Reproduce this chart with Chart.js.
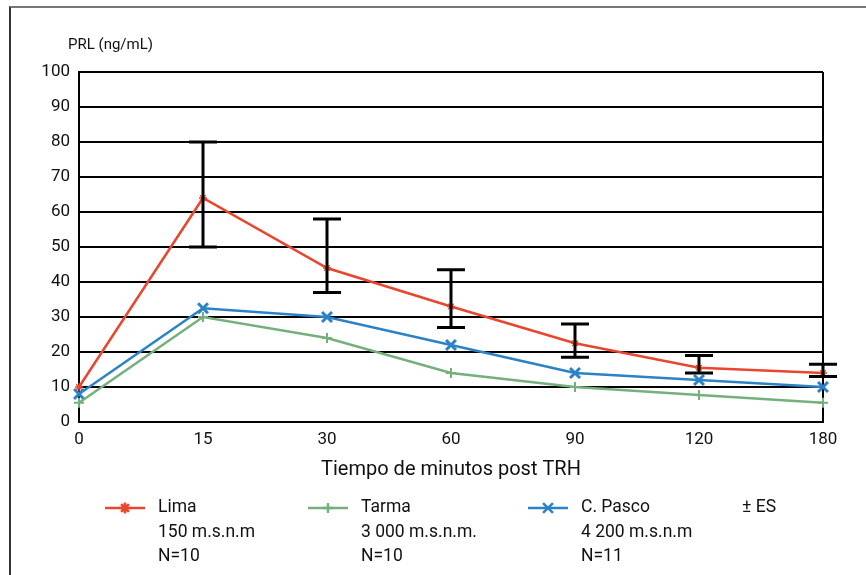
<!DOCTYPE html>
<html>
<head>
<meta charset="utf-8">
<script src="https://cdn.jsdelivr.net/npm/chart.js@4"></script>
<style>
  html, body { margin: 0; padding: 0; background: #fff; }
  #wrap { position: relative; width: 866px; height: 575px; }
  #frame { position: absolute; left: 9px; top: 6px; width: 857px; height: 569px;
           border-top: 2px solid #777; border-left: 2px solid #333; box-sizing: border-box; }
</style>
</head>
<body>
<div id="wrap">
  <div id="frame"></div>
  <canvas id="prlChart" width="866" height="575"></canvas>
</div>
<script>
// --- data ---
const minutes = ['0', '15', '30', '60', '90', '120', '180'];
const lima  = [10, 64, 44, 33, 22.5, 15.5, 14];
const tarma = [5.5, 30, 24, 14, 10, 7.7, 5.5];
const pasco = [8, 32.5, 30, 22, 14, 12, 10];
const esLow  = [null, 50, 37, 27, 18.5, 14, 13];
const esHigh = [null, 80, 58, 43.5, 28, 19, 16.5];
const yTicks = [0, 10, 20, 30, 40, 50, 60, 70, 80, 90, 100];

const FONT = "'Roboto', sans-serif";
const RED = '#e8472d', GREEN = '#74b07b', BLUE = '#2b82c6';

// legend rows (drawn by plugin below)
const legendItems = [
    { lines: ['Lima', '150 m.s.n.m', 'N=10'], color: RED, style: 'star', r: 5.5, w: 1.2, x: 105 },
    { lines: ['Tarma', '3 000 m.s.n.m.', 'N=10'], color: GREEN, style: 'cross', r: 5, w: 2, x: 308 },
    { lines: ['C. Pasco', '4 200 m.s.n.m', 'N=11'], color: BLUE, style: 'crossRot', r: 7, w: 3, x: 528 }
];

// error bars (± ES) drawn through the scales
const errorBars = {
    id: 'errorBars',
    afterDatasetsDraw(chart) {
        const { ctx, scales: { x, y } } = chart;
        ctx.save();
        ctx.strokeStyle = '#000';
        ctx.lineWidth = 3;
        esLow.forEach((lo, i) => {
            if (lo === null) return;
            const px = x.getPixelForValue(i);
            const top = y.getPixelForValue(esHigh[i]);
            const bot = y.getPixelForValue(lo);
            ctx.beginPath();
            ctx.moveTo(px, top); ctx.lineTo(px, bot);
            ctx.moveTo(px - 14, top); ctx.lineTo(px + 14, top);
            ctx.moveTo(px - 14, bot); ctx.lineTo(px + 14, bot);
            ctx.stroke();
        });
        ctx.restore();
    }
};

// axis title on top + custom legend below
const extras = {
    id: 'extras',
    afterDraw(chart) {
        const ctx = chart.ctx;
        ctx.save();
        ctx.fillStyle = '#111';
        ctx.textBaseline = 'middle';
        ctx.font = `15px ${FONT}`;
        ctx.fillText('PRL (ng/mL)', 68, 45);

        ctx.font = `17.5px ${FONT}`;
        legendItems.forEach(item => {
            ctx.strokeStyle = item.color;
            ctx.lineWidth = 2.5;
            ctx.beginPath();
            ctx.moveTo(item.x, 508); ctx.lineTo(item.x + 40, 508);
            ctx.stroke();
            ctx.fillStyle = item.color;
            Chart.helpers.drawPoint(ctx, {
                pointStyle: item.style, radius: item.r, borderWidth: item.w
            }, item.x + 20, 508);
            ctx.fillStyle = '#111';
            item.lines.forEach((t, k) => ctx.fillText(t, item.x + 53, 508 + k * 24.5));
        });
        ctx.fillText('\u00B1 ES', 742, 508);
        ctx.restore();
    }
};

const ctx = document.getElementById('prlChart').getContext('2d');
new Chart(ctx, {
    type: 'line',
    data: {
        labels: minutes,
        datasets: [
            { label: 'Lima', data: lima, borderColor: RED, backgroundColor: RED,
              borderWidth: 2.5, pointStyle: 'star', pointRadius: 4, pointBorderWidth: 1.3, tension: 0 },
            { label: 'Tarma', data: tarma, borderColor: GREEN, backgroundColor: GREEN,
              borderWidth: 2.5, pointStyle: 'cross', pointRadius: 5, pointBorderWidth: 2, tension: 0 },
            { label: 'C. Pasco', data: pasco, borderColor: BLUE, backgroundColor: BLUE,
              borderWidth: 2.5, pointStyle: 'crossRot', pointRadius: 7, pointBorderWidth: 3, tension: 0 }
        ]
    },
    options: {
        responsive: false,
        animation: false,
        layout: { padding: { left: 0, top: 72, right: 43, bottom: 93 } },
        plugins: { legend: { display: false }, tooltip: { enabled: false } },
        scales: {
            x: {
                offset: false,
                grid: {
                    drawTicks: false,
                    lineWidth: 2,
                    color: c => c.index === minutes.length - 1 ? '#000' : 'rgba(0,0,0,0)'
                },
                border: { color: '#000', width: 2 },
                ticks: { color: '#111', font: { family: FONT, size: 17 }, padding: 8 },
                title: { display: true, text: 'Tiempo de minutos post TRH', color: '#111',
                         font: { family: FONT, size: 20 }, padding: { top: 2, bottom: 0 } },
                afterFit: s => { s.height = 60; }
            },
            y: {
                min: 0, max: 100,
                afterBuildTicks: s => { s.ticks = yTicks.map(v => ({ value: v })); },
                grid: { drawTicks: false, lineWidth: 2, color: '#000' },
                border: { color: '#000', width: 2 },
                ticks: { color: '#111', font: { family: FONT, size: 17 }, padding: 9 },
                afterFit: s => { s.width = 79; }
            }
        }
    },
    plugins: [errorBars, extras]
});
</script>
</body>
</html>
